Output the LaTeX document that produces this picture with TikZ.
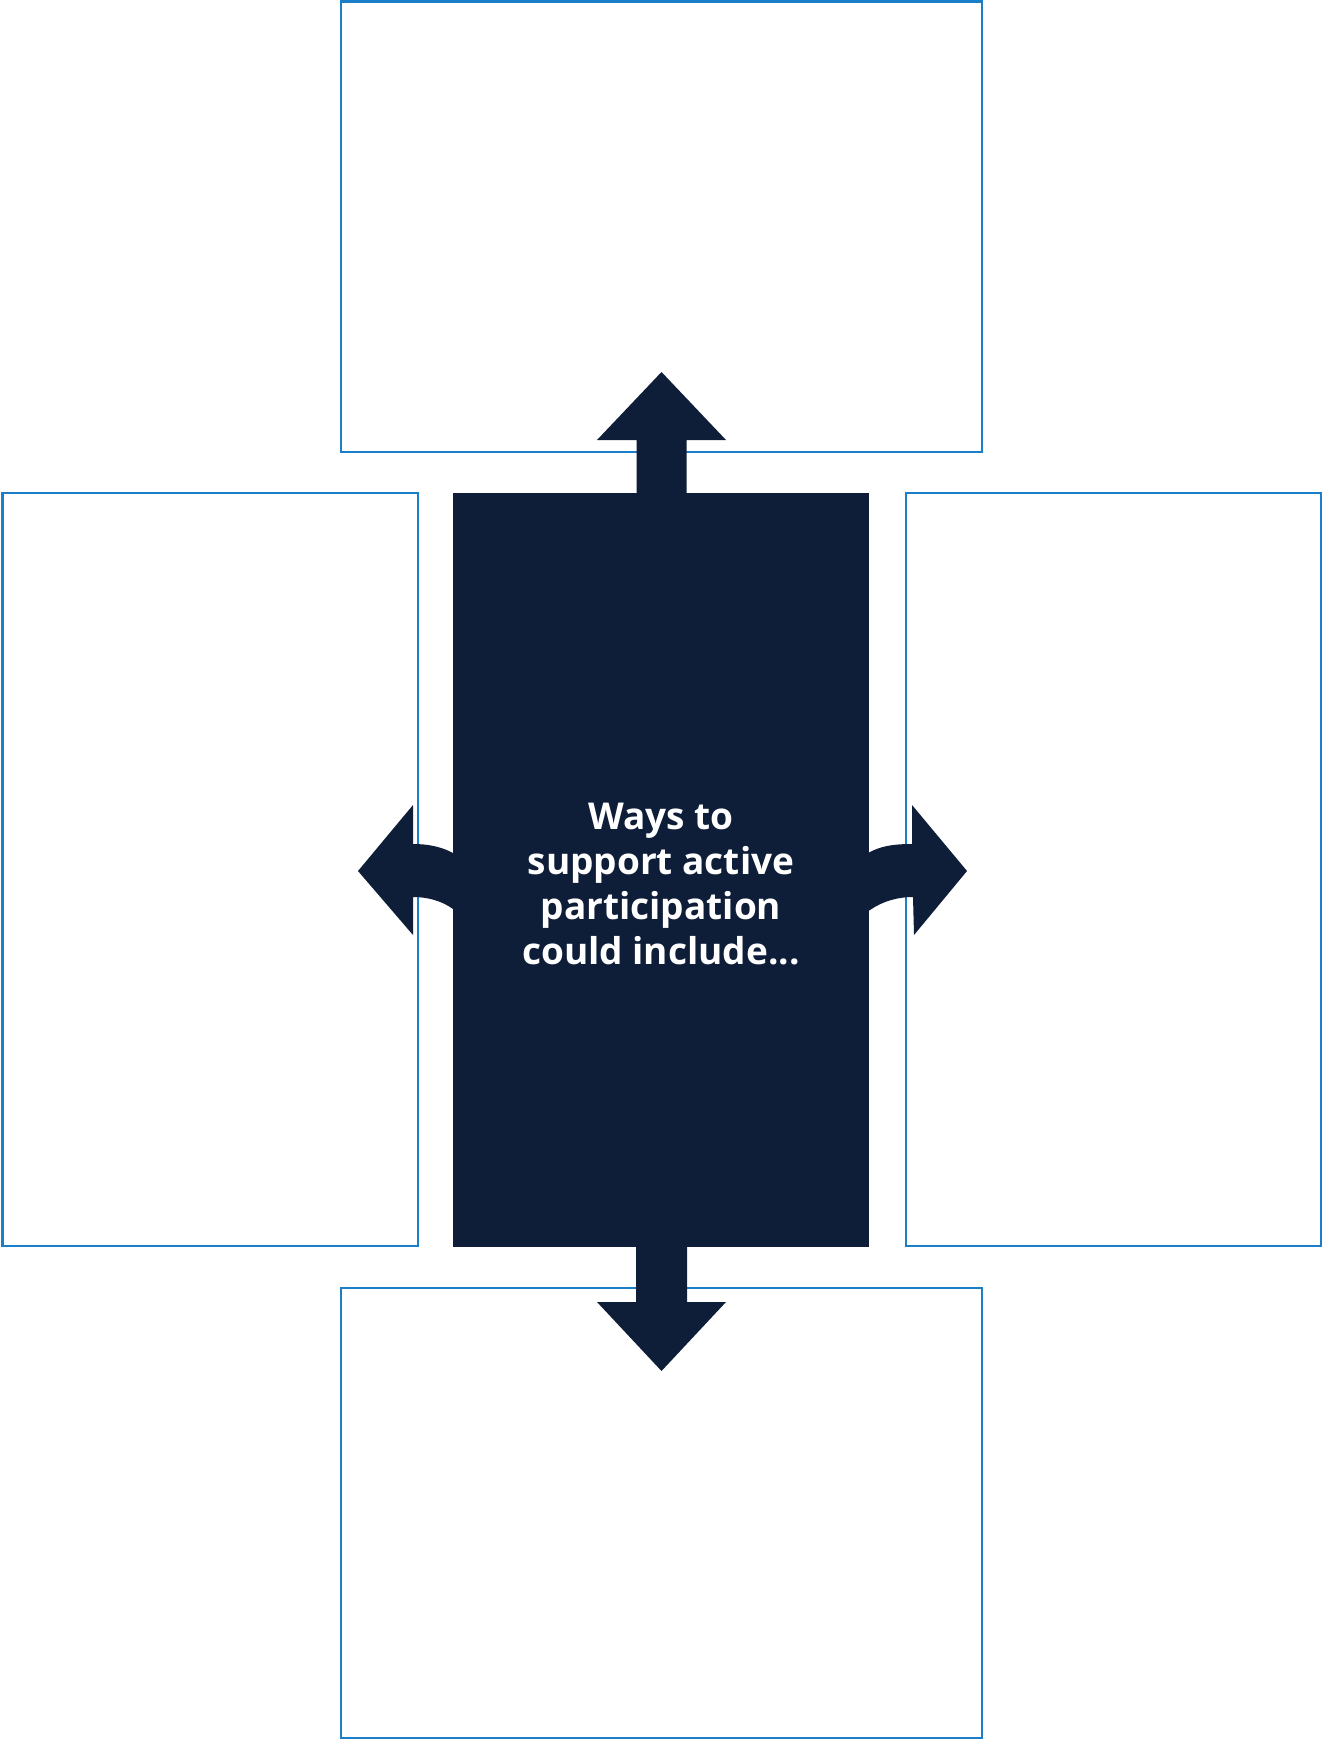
\documentclass[tikz,border=0pt]{standalone}
\usepackage{fontspec}
\setmainfont{Open Sans}
\definecolor{navy}{HTML}{0E1D38}
\definecolor{frame}{HTML}{1A7EC8}
\begin{document}
\begin{tikzpicture}[x=1pt,y=-1pt,
  box/.style={draw=frame, line width=2.5pt, fill=white, inner sep=0pt, outer sep=0pt, anchor=north west},
  core/.style={fill=navy, inner sep=0pt, outer sep=0pt, anchor=north west},
  blockarrow/.style={fill=navy, draw=none}]
\useasboundingbox (0,0) rectangle (1323,1742);
\node[box, minimum width=641pt, minimum height=450.5pt] (top) at (341,1.5) {};
\node[box, minimum width=641pt, minimum height=450pt] (bottom) at (341,1288) {};
\node[box, minimum width=415.5pt, minimum height=753pt] (left) at (2.5,493) {};
\node[box, minimum width=415pt, minimum height=753pt] (right) at (906,493) {};
\node[core, minimum width=416pt, minimum height=754pt] (center) at (453,493) {};
\node[text=white, font=\bfseries\fontsize{37}{45}\selectfont, align=center] (label) at (661,884)
  {Ways to\\support active\\participation\\could include...};
% up arrow
\fill[blockarrow] ([xshift=-24.5pt,yshift=-2pt]center.north) -- (636.5,440) -- (597,440) -- (661.5,372) -- (726,440) -- (686.5,440) -- ([xshift=25.5pt,yshift=-2pt]center.north) -- cycle;
% down arrow
\fill[blockarrow] ([xshift=-25pt,yshift=2pt]center.south) -- (636,1302) -- (597,1302) -- (661.5,1371) -- (726,1302) -- (687,1302) -- ([xshift=26pt,yshift=2pt]center.south) -- cycle;
% left arrow
\fill[blockarrow] (458,856) -- (453,853) .. controls (440,846) and (426,844) .. (413,844) -- (413,805) -- (358,871) -- (413,935) -- (413,897) .. controls (428,897) and (442,901) .. (453,909) -- (458,912) -- cycle;
% right arrow
\fill[blockarrow] (865,855) -- (870,852) .. controls (883,845) and (898,844) .. (912,844) -- (912,805) -- (967,871) -- (914,935) -- (913,897) .. controls (898,897) and (883,901) .. (870,910) -- (865,913) -- cycle;
\end{tikzpicture}
\end{document}
